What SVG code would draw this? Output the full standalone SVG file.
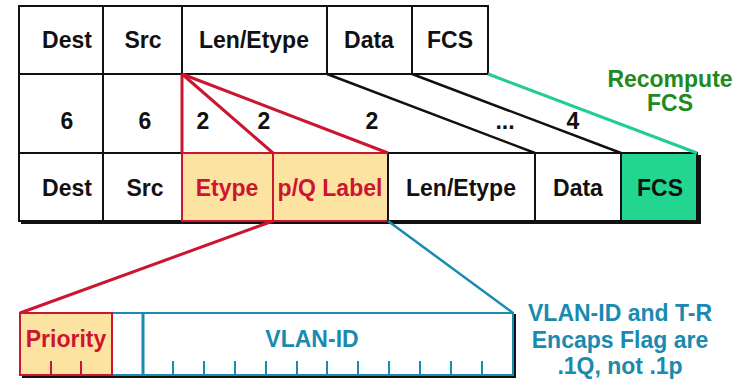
<svg xmlns="http://www.w3.org/2000/svg" width="740" height="381" viewBox="0 0 740 381">
  <style>
    text { font-family: "Liberation Sans", Arial, sans-serif; font-weight: bold; font-size: 23px; text-anchor: middle; }
    .blk { fill: #111; }
    .red { fill: #cc1530; }
    .blu { fill: #1a8ab0; }
    .grn { fill: #228a1c; }
    .cell { fill: #fff; stroke: #111; stroke-width: 2; }
    .tag { fill: #fde3a2; stroke: #cc1530; stroke-width: 2; }
    .fcs { fill: #22d690; stroke: #111; stroke-width: 2; }
    .lr { stroke: #cc1530; stroke-width: 3; fill: none; }
    .lk { stroke: #111; stroke-width: 2.5; fill: none; }
    .lg { stroke: #22cc99; stroke-width: 3; fill: none; }
    .lb { stroke: #1a8ab0; stroke-width: 2.5; fill: none; }
    .tick { stroke: #1a8ab0; stroke-width: 2; }
    .rtick { stroke: #cc1530; stroke-width: 2; }
  </style>

  <!-- original frame -->
  <g id="orig-frame">
    <rect class="cell" x="19" y="6" width="84" height="68"/>
    <rect class="cell" x="103" y="6" width="79" height="68"/>
    <rect class="cell" x="182" y="6" width="145" height="68"/>
    <rect class="cell" x="327" y="6" width="85" height="68"/>
    <rect class="cell" x="412" y="6" width="76" height="68"/>
    <text class="blk" x="67" y="48">Dest</text>
    <text class="blk" x="143" y="48">Src</text>
    <text class="blk" x="254" y="48">Len/Etype</text>
    <text class="blk" x="369" y="48">Data</text>
    <text class="blk" x="450" y="48">FCS</text>
  </g>

  <!-- field sizes (bytes) -->
  <g id="sizes">
    <rect class="cell" x="19" y="74" width="84" height="79"/>
    <rect class="cell" x="103" y="74" width="79" height="79"/>
    <text class="blk" x="67" y="129">6</text>
    <text class="blk" x="145" y="129">6</text>
    <text class="blk" x="203" y="129">2</text>
    <text class="blk" x="264" y="129">2</text>
    <text class="blk" x="372" y="129">2</text>
    <text class="blk" x="505" y="129">...</text>
    <text class="blk" x="573" y="129">4</text>
  </g>

  <!-- tagged frame -->
  <g id="tagged-frame">
    <path d="M21 222 H699 V155" stroke="#111" stroke-width="4" fill="none"/>
    <rect class="cell" x="19" y="153" width="84" height="68"/>
    <rect class="cell" x="103" y="153" width="79" height="68"/>
    <rect class="tag" x="182" y="153" width="91" height="68"/>
    <rect class="tag" x="273" y="153" width="115" height="68"/>
    <rect class="cell" x="388" y="153" width="147" height="68"/>
    <rect class="cell" x="535" y="153" width="86" height="68"/>
    <rect class="fcs" x="621" y="153" width="76" height="68"/>
    <text class="blk" x="67" y="196">Dest</text>
    <text class="blk" x="145" y="196">Src</text>
    <text class="red" x="227" y="196">Etype</text>
    <text class="red" x="330" y="196">p/Q Label</text>
    <text class="blk" x="461" y="196">Len/Etype</text>
    <text class="blk" x="578" y="196">Data</text>
    <text class="blk" x="660" y="196">FCS</text>
  </g>

  <!-- recompute note -->
  <g id="recompute">
    <text class="grn" x="670" y="87">Recompute</text>
    <text class="grn" x="670" y="111">FCS</text>
  </g>

  <!-- tag control information -->
  <g id="tci">
    <path d="M22 376 H514 V314" stroke="#111" stroke-width="4" fill="none"/>
    <rect x="20" y="313" width="493" height="62" fill="#fff" stroke="#1a8ab0" stroke-width="2"/>
    <rect class="tag" x="20" y="313" width="92" height="62"/>
    <line x1="143" y1="313" x2="143" y2="375" stroke="#1a8ab0" stroke-width="3"/>
    <line class="rtick" x1="51" y1="361" x2="51" y2="375"/>
    <line class="rtick" x1="81" y1="361" x2="81" y2="375"/>
    <g class="tick">
      <line x1="173" y1="361" x2="173" y2="375"/>
      <line x1="204" y1="361" x2="204" y2="375"/>
      <line x1="235" y1="361" x2="235" y2="375"/>
      <line x1="266" y1="361" x2="266" y2="375"/>
      <line x1="297" y1="361" x2="297" y2="375"/>
      <line x1="327" y1="361" x2="327" y2="375"/>
      <line x1="358" y1="361" x2="358" y2="375"/>
      <line x1="389" y1="361" x2="389" y2="375"/>
      <line x1="420" y1="361" x2="420" y2="375"/>
      <line x1="451" y1="361" x2="451" y2="375"/>
      <line x1="482" y1="361" x2="482" y2="375"/>
    </g>
    <text class="red" x="66" y="347">Priority</text>
    <text class="blu" x="312" y="347">VLAN-ID</text>
  </g>

  <!-- VLAN note -->
  <g id="vlan-note">
    <text class="blu" x="620" y="321">VLAN-ID and T-R</text>
    <text class="blu" x="620" y="348">Encaps Flag are</text>
    <text class="blu" x="620" y="374">.1Q, not .1p</text>
  </g>

  <!-- connectors -->
  <g id="connectors">
    <line class="lr" x1="182" y1="74" x2="182" y2="153"/>
    <line class="lr" x1="182" y1="74" x2="273" y2="153"/>
    <line class="lr" x1="182" y1="74" x2="388" y2="153"/>
    <line class="lk" x1="327" y1="74" x2="535" y2="153"/>
    <line class="lk" x1="412" y1="74" x2="621" y2="153"/>
    <line class="lg" x1="488" y1="74" x2="697" y2="153"/>
    <line class="lr" x1="273" y1="221" x2="20" y2="313"/>
    <line class="lb" x1="388" y1="221" x2="513" y2="313"/>
  </g>
</svg>
